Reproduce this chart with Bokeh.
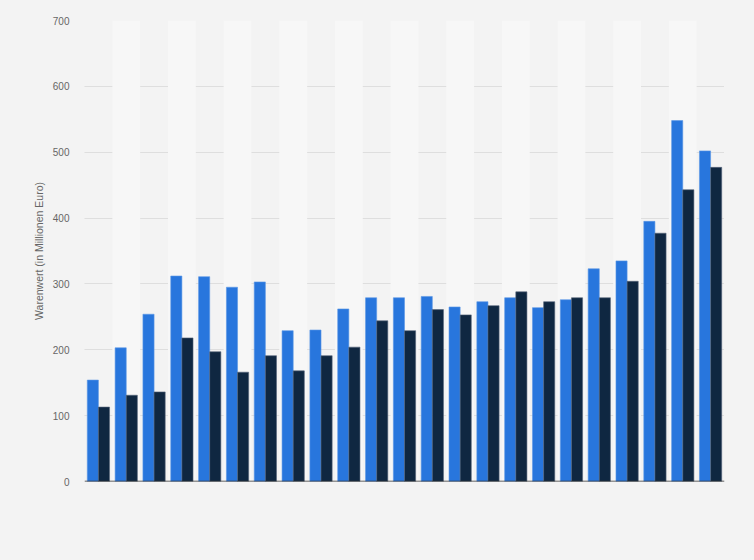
from bokeh.plotting import figure
from bokeh.models import FactorRange, ColumnDataSource, Span
from bokeh.transform import dodge
from bokeh.embed import file_html
from bokeh.resources import INLINE

groups = [str(i) for i in range(1, 24)]
series_a = [154, 203, 254, 312, 311, 295, 303, 229, 230, 262, 279, 279, 281, 265, 273, 279, 264, 276, 323, 335, 395, 548, 502]
series_b = [113, 131, 136, 218, 197, 166, 191, 168, 191, 204, 244, 229, 261, 253, 267, 288, 273, 279, 279, 304, 377, 443, 477]
y_ticks = [0, 100, 200, 300, 400, 500, 600, 700]
y_title = "Warenwert (in Millionen Euro)"

BG = "#f3f3f3"
STRIPE = "#f7f7f7"

p = figure(x_range=FactorRange(*groups), y_range=(0, 700), width=754, height=560,
           output_backend="svg", toolbar_location=None,
           min_border_left=84, min_border_right=30, min_border_top=20, min_border_bottom=79)
p.background_fill_color = BG
p.border_fill_color = BG
p.outline_line_color = None

stripe_src = ColumnDataSource(dict(x=groups[1::2], top=[700] * len(groups[1::2])))
p.vbar(x="x", top="top", bottom=0, width=1.0, source=stripe_src, fill_color=STRIPE, line_color=None)

src = ColumnDataSource(dict(x=groups, a=series_a, b=series_b))
p.vbar(x=dodge("x", -0.2, range=p.x_range), top="a", width=0.4, source=src,
       fill_color="#2876dd", line_color="#5a97e6", line_width=0.6)
p.vbar(x=dodge("x", 0.2, range=p.x_range), top="b", width=0.4, source=src,
       fill_color="#0f2741", line_color="#56657a", line_width=0.6)

p.add_layout(Span(location=0, dimension="width", line_color="#333333", line_width=1.5))

p.xaxis.visible = False
p.xgrid.grid_line_color = None

p.yaxis.ticker = y_ticks
p.yaxis.axis_line_color = None
p.yaxis.major_tick_line_color = None
p.yaxis.minor_tick_line_color = None
p.yaxis.major_tick_out = 0
p.yaxis.major_tick_in = 0
p.yaxis.minor_tick_out = 0
p.yaxis.major_label_text_color = "#666666"
p.yaxis.major_label_text_font = "Liberation Sans"
p.yaxis.major_label_text_font_size = "10px"
p.yaxis.major_label_standoff = 15
p.yaxis.axis_label = y_title
p.yaxis.axis_label_text_font = "Liberation Sans"
p.yaxis.axis_label_text_font_style = "normal"
p.yaxis.axis_label_text_font_size = "10.5px"
p.yaxis.axis_label_text_color = "#666666"
p.yaxis.axis_label_standoff = 5

p.ygrid.grid_line_color = "#c8c8c8"
p.ygrid.grid_line_dash = "1 1"
p.ygrid.grid_line_width = 1

html = file_html(p, INLINE)
html = html.replace("<head>", "<head><style>html,body{margin:0;padding:0;background:#f3f3f3;}</style>", 1)
open("out.html", "w").write(html)
